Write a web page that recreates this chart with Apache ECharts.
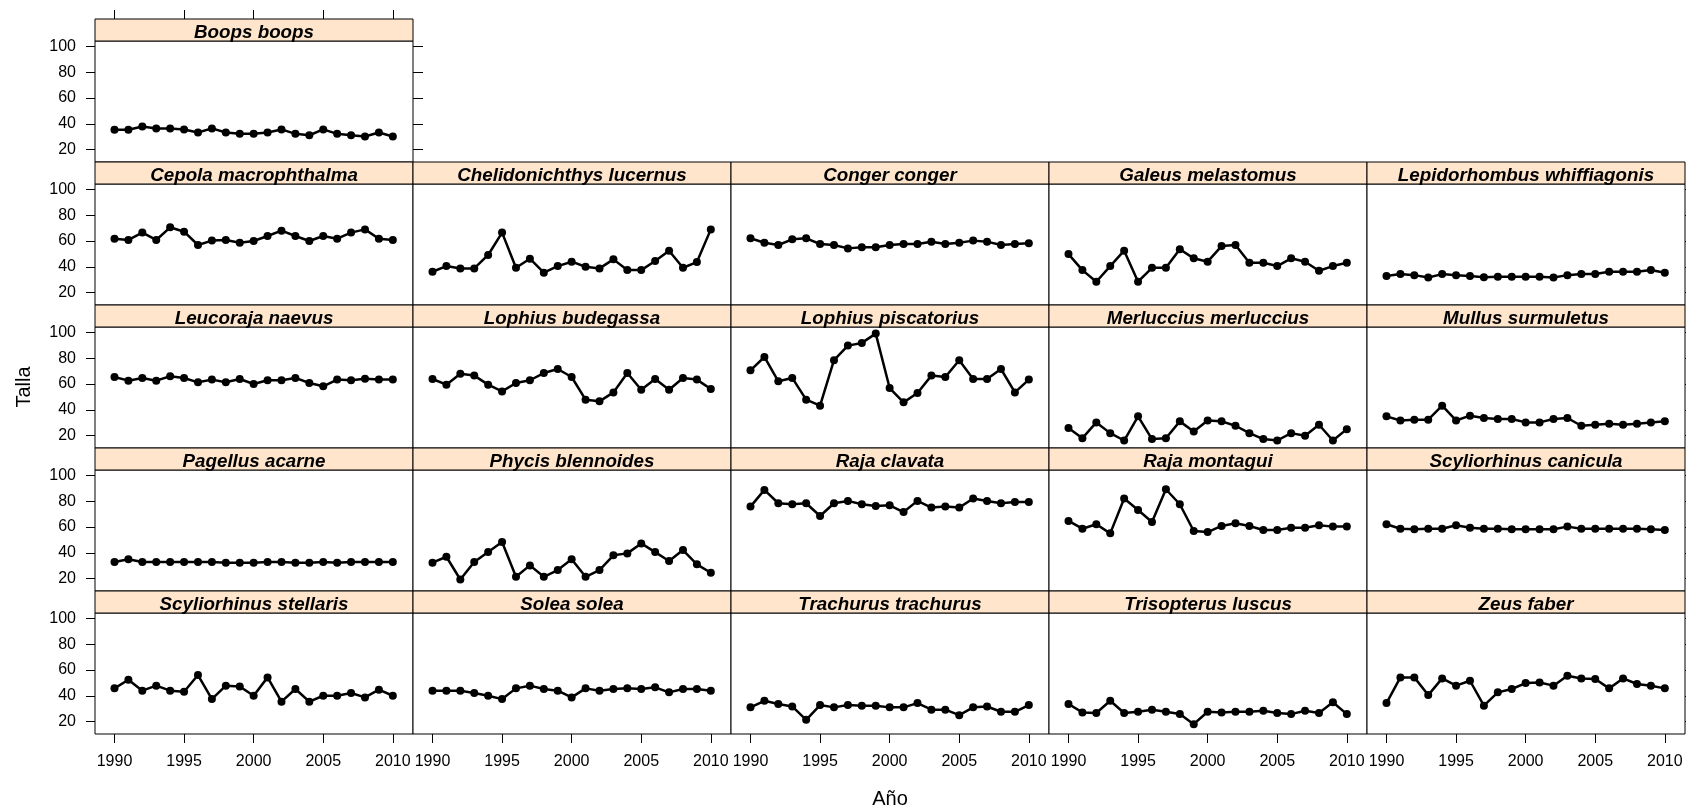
<!DOCTYPE html>
<html><head><meta charset="utf-8">
<script src="https://cdn.jsdelivr.net/npm/echarts@6/dist/echarts.min.js"></script>
<style>html,body{margin:0;padding:0;background:#fff}#c{width:1686px;height:807px}</style>
</head><body><div id="c"></div>
<script>
// ---------------- data ----------------
const years = [1990,1991,1992,1993,1994,1995,1996,1997,1998,1999,2000,2001,2002,2003,2004,2005,2006,2007,2008,2009,2010];
const xTicks = [1990,1995,2000,2005,2010];
const yTicks = [20,40,60,80,100];

const boopsBoops = [35.4,35.4,38.0,36.5,36.5,35.7,33.3,36.5,33.3,32.3,32.3,33.3,35.7,32.3,31.2,35.7,32.3,31.2,30.2,33.3,30.2];
const cepolaMacrophthalma = [61.8,60.8,66.5,60.8,70.6,67.2,56.9,60.3,60.8,58.7,60.0,63.9,68.0,63.9,60.0,63.9,61.8,66.5,69.0,61.8,60.8];
const chelidonichthysLucernus = [36.2,40.6,38.8,38.8,49.2,66.5,39.3,46.3,35.5,40.6,44.0,40.1,38.8,45.8,37.5,37.5,44.5,52.5,39.3,43.7,69.0];
const congerConger = [62.1,58.7,56.9,61.3,62.1,57.7,56.9,54.3,55.1,55.1,56.9,57.7,57.7,59.5,57.7,58.7,60.3,59.5,56.9,57.7,58.2];
const galeusMelastomus = [49.9,37.5,28.5,40.6,52.5,28.5,39.3,39.3,53.6,46.6,44.0,56.1,56.9,43.2,43.2,40.6,46.6,44.0,37.0,40.6,43.2];
const lepidorhombusWhiffiagonis = [32.9,34.4,33.6,31.8,34.4,33.6,32.9,32.0,32.4,32.4,32.4,32.4,31.8,33.6,34.4,34.4,36.2,36.2,36.2,37.5,35.5];
const leucorajaNaevus = [65.4,62.6,64.7,62.6,66.0,64.7,61.3,63.4,61.3,63.9,60.0,62.9,62.9,64.7,60.8,58.2,63.4,62.9,64.1,63.4,63.4];
const lophiusBudegassa = [63.9,59.5,68.0,66.5,59.5,54.3,60.8,62.9,68.5,71.6,65.4,47.9,46.6,53.5,68.5,55.6,63.9,55.6,64.7,63.4,56.1];
const lophiusPiscatorius = [70.6,80.9,62.1,64.7,47.9,43.2,78.4,89.7,91.8,99.0,56.9,45.8,53.0,66.5,65.4,78.4,63.9,63.9,71.6,53.5,63.4];
const merlucciusMerluccius = [25.9,18.1,30.3,22.0,16.3,35.0,17.4,18.1,31.1,23.3,31.8,31.1,27.7,22.0,17.4,16.3,22.0,20.0,28.5,16.3,25.1];
const mullusSurmuletus = [35.0,31.8,32.4,32.4,43.2,31.8,35.5,33.7,32.9,32.9,30.3,30.3,32.9,33.7,27.7,28.5,29.3,28.5,29.3,30.3,31.1];
const pagellusAcarne = [32.9,35.0,32.9,32.9,32.9,32.9,32.9,32.9,32.4,32.4,32.4,32.9,32.9,32.4,32.4,32.9,32.4,32.9,32.9,32.9,32.9];
const phycisBlennoides = [32.4,37.0,19.4,32.9,40.6,48.4,21.5,30.3,21.5,26.7,35.0,21.5,26.7,38.1,39.6,47.3,40.6,33.7,42.2,31.1,24.6];
const rajaClavata = [75.8,88.7,78.4,77.6,78.4,68.5,78.4,80.2,77.6,76.3,76.8,71.6,80.2,75.0,75.8,75.0,82.0,80.2,78.4,79.4,79.4];
const rajaMontagui = [64.7,58.7,62.1,55.1,82.0,73.2,63.9,89.2,77.6,56.9,56.1,60.8,62.9,60.8,57.7,57.7,59.5,59.5,61.3,60.3,60.3];
const scyliorhinusCanicula = [62.1,58.7,58.2,58.7,58.7,61.3,59.5,58.7,58.7,58.2,58.2,58.2,58.2,60.3,58.7,58.7,58.7,58.7,58.7,58.2,57.7];
const scyliorhinusStellaris = [45.8,52.5,44.0,47.9,44.0,43.2,56.1,37.5,47.9,47.3,40.1,54.3,35.5,45.3,35.5,40.1,40.1,42.2,38.8,44.8,40.1];
const soleaSolea = [44.0,44.0,44.0,42.2,40.1,37.5,45.8,47.9,45.3,44.0,38.8,45.8,44.0,45.3,45.8,45.3,46.6,42.7,45.3,45.3,44.0];
const trachurusTrachurus = [31.1,36.2,33.7,31.8,21.5,32.9,31.1,32.9,32.4,32.4,31.1,31.1,34.4,29.3,29.3,25.1,31.1,31.8,27.7,27.7,32.9];
const trisopterusLuscus = [33.7,27.2,26.7,36.2,26.7,27.7,29.3,27.7,25.9,18.1,27.7,27.2,27.7,27.7,28.5,26.7,25.9,28.5,26.7,35.0,25.9];
const zeusFaber = [34.4,54.3,54.3,40.6,53.5,47.9,51.7,32.4,42.7,45.3,49.9,50.4,47.9,55.6,53.5,53.0,45.8,53.5,49.2,47.9,45.8];

const panelNames = ['Boops boops','Cepola macrophthalma','Chelidonichthys lucernus','Conger conger','Galeus melastomus','Lepidorhombus whiffiagonis',
 'Leucoraja naevus','Lophius budegassa','Lophius piscatorius','Merluccius merluccius','Mullus surmuletus',
 'Pagellus acarne','Phycis blennoides','Raja clavata','Raja montagui','Scyliorhinus canicula',
 'Scyliorhinus stellaris','Solea solea','Trachurus trachurus','Trisopterus luscus','Zeus faber'];
const panelValues = [boopsBoops,cepolaMacrophthalma,chelidonichthysLucernus,congerConger,galeusMelastomus,lepidorhombusWhiffiagonis,
 leucorajaNaevus,lophiusBudegassa,lophiusPiscatorius,merlucciusMerluccius,mullusSurmuletus,
 pagellusAcarne,phycisBlennoides,rajaClavata,rajaMontagui,scyliorhinusCanicula,
 scyliorhinusStellaris,soleaSolea,trachurusTrachurus,trisopterusLuscus,zeusFaber];

// ---------------- layout ----------------
const X0 = 95, PW = 318, PH = 121, TOP0 = 41, PITCH = 143, STRIP = 22;
const XMIN = 1988.6, XMAX = 2011.45, YMIN = 10.5, YMAX = 104.1;
const FONT = '"Liberation Sans", Arial, sans-serif';
const tickFont = {color:'#000', fontSize:16, fontFamily:FONT, formatter: v => String(v)};

const grids = [], xAxes = [], yAxes = [], series = [], graphics = [];
panelNames.forEach((name, i) => {
  const r = i === 0 ? 0 : 1 + Math.floor((i - 1) / 5);
  const c = i === 0 ? 0 : (i - 1) % 5;
  const left = X0 + PW * c, top = TOP0 + PITCH * r;
  grids.push({left, top, width: PW, height: PH, show: true, borderColor:'#000', borderWidth:1, backgroundColor:'#fff', containLabel:false});
  const bottomRow = r === 4, leftCol = c === 0;
  xAxes.push({type:'value', gridIndex:i, min:XMIN, max:XMAX, position:'bottom',
    axisLine:{show:false}, splitLine:{show:false},
    axisTick:{show:bottomRow, customValues:xTicks, length:9, lineStyle:{color:'#000'}},
    axisLabel:{show:bottomRow, customValues:xTicks, margin:20, ...tickFont}});
  yAxes.push({type:'value', gridIndex:i, min:YMIN, max:YMAX, position:'left',
    axisLine:{show:false}, splitLine:{show:false},
    axisTick:{show:leftCol, customValues:yTicks, length:9, lineStyle:{color:'#000'}},
    axisLabel:{show:leftCol, customValues:yTicks, margin:19, ...tickFont}});
  series.push({type:'line', xAxisIndex:i, yAxisIndex:i,
    data: years.map((y, k) => [y, panelValues[i][k]]),
    symbol:'circle', symbolSize:8, showSymbol:true,
    lineStyle:{color:'#000', width:2.5}, itemStyle:{color:'#000'}, animation:false, silent:true});
  graphics.push({type:'rect', shape:{x:left, y:top - STRIP, width:PW, height:STRIP},
    style:{fill:'#FFE5CC', stroke:'#000', lineWidth:1}, z:10});
  graphics.push({type:'text', x:left + PW / 2, y:top - STRIP + 14,
    style:{text:name, fill:'#000', font:'italic bold 18.8px ' + FONT, textAlign:'center', textVerticalAlign:'middle'}, z:11});
});
// extra tick-only axes: top of the top panel, right side of rightmost panels
xAxes.push({type:'value', gridIndex:0, min:XMIN, max:XMAX, position:'top', offset:STRIP,
  axisLine:{show:false}, splitLine:{show:false}, axisLabel:{show:false},
  axisTick:{show:true, customValues:xTicks, length:9, lineStyle:{color:'#000'}}});
[0,5,10,15,20].forEach(gi => {
  yAxes.push({type:'value', gridIndex:gi, min:YMIN, max:YMAX, position:'right',
    axisLine:{show:false}, splitLine:{show:false}, axisLabel:{show:false},
    axisTick:{show:true, customValues:yTicks, length:10, lineStyle:{color:'#000'}}});
});
graphics.push({type:'text', x:890, y:799, style:{text:'Año', fill:'#000', font:'20px ' + FONT, textAlign:'center', textVerticalAlign:'middle'}});
graphics.push({type:'text', x:24, y:387, rotation:Math.PI/2, style:{text:'Talla', fill:'#000', font:'20px ' + FONT, textAlign:'center', textVerticalAlign:'middle'}});

const chart = echarts.init(document.getElementById('c'), null, {renderer:'canvas'});
chart.setOption({backgroundColor:'#fff', animation:false, grid:grids, xAxis:xAxes, yAxis:yAxes, series, graphic:graphics});
</script></body></html>
